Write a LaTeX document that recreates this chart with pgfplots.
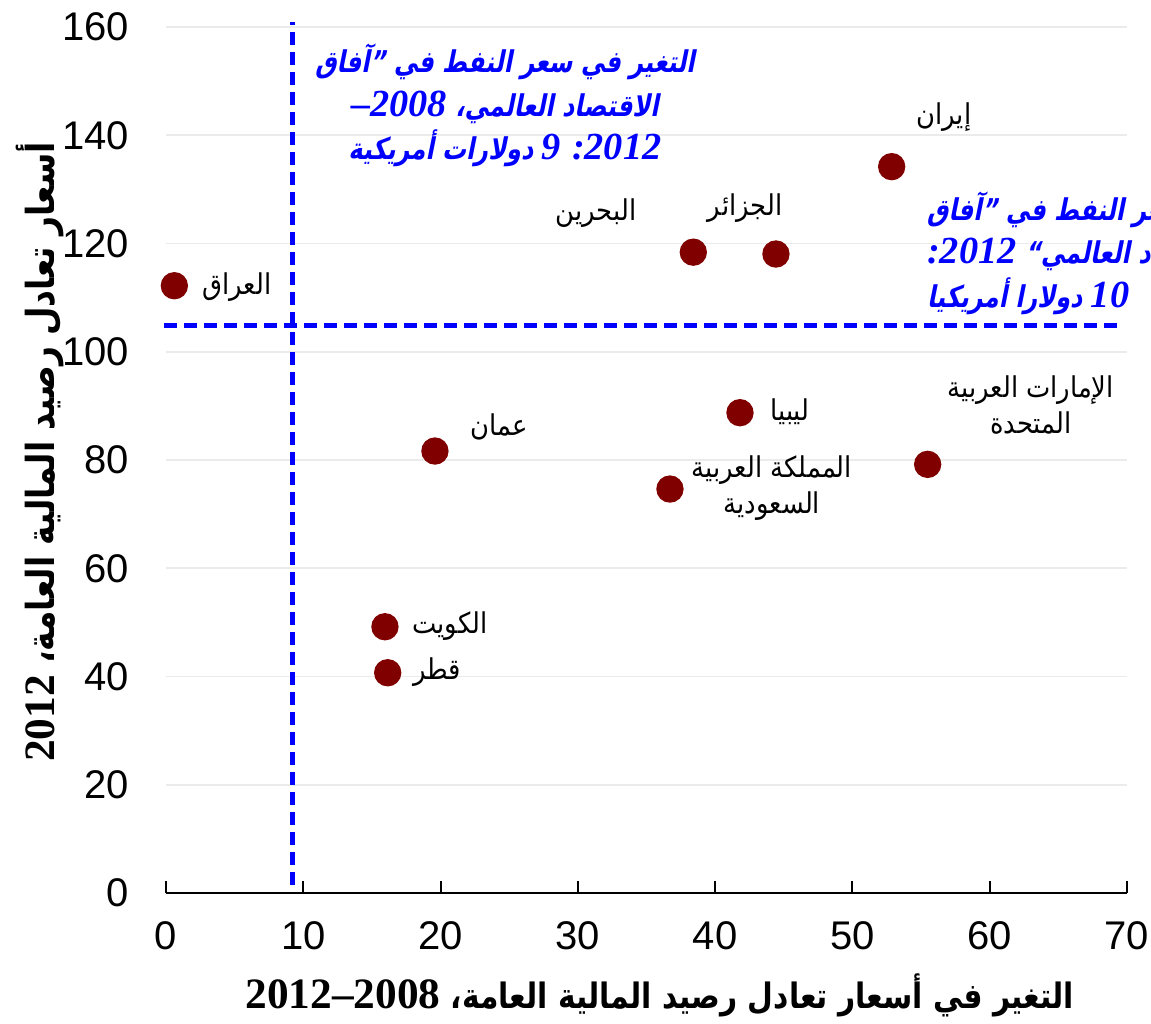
\documentclass[border=0pt]{standalone}
\usepackage{fontspec}
\usepackage{pgfplots}
\pgfplotsset{compat=1.18}
\setmainfont{Liberation Sans}
\TeXXeTstate=1
\newfontfamily\ar[Script=Arabic,FakeStretch=0.9]{DejaVu Sans}
\newfontfamily\arb[Script=Arabic,FakeStretch=0.85]{DejaVu Sans Bold}
\newfontfamily\arbi[Script=Arabic,FakeSlant=0.2,FakeStretch=0.8]{DejaVu Sans Bold}
\newfontfamily\tnr{Liberation Serif}
\definecolor{darkred}{HTML}{800000}
\definecolor{gridgray}{HTML}{EBEBEB}
\newcommand\annum[1]{{\tnr\bfseries\itshape\fontsize{11.5}{13}\selectfont\beginL #1\endL}}
\newcommand\labnum[1]{{\tnr\bfseries\fontsize{13}{15}\selectfont\beginL #1\endL}}
\begin{document}
\begin{tikzpicture}
\begin{axis}[
  width=288.3pt, height=259.8pt, scale only axis,
  xmin=0, xmax=70, ymin=0, ymax=160,
  clip=false,
  axis x line*=bottom, axis y line*=left,
  x axis line style={-, black, line width=0.6pt},
  y axis line style={draw=none},
  xtick={0,10,...,70}, ytick={0,20,...,160},
  xtick align=inside, major tick length=3.6pt,
  xtick style={black, line width=0.6pt},
  ytick style={draw=none},
  ymajorgrids, major grid style={gridgray, line width=0.5pt},
  /pgf/number format/assume math mode=true,
  tick label style={font=\fontsize{12}{14}\selectfont, black},
  xticklabel style={yshift=-5pt},
  yticklabel style={xshift=-7.5pt},
]
\addplot[only marks, mark=*, mark size=3.9pt, color=darkred] coordinates {
  (0.61,112.2) (38.41,118.4) (44.43,118.06) (52.86,134.2) (41.81,88.74)
  (55.48,79.2) (19.59,81.66) (36.71,74.64) (15.95,49.2) (16.15,40.7)
};
\addplot[blue, line width=1.5pt, dash pattern=on 4pt off 2pt] coordinates {(9.2,1.5) (9.2,160.9)};
\addplot[blue, line width=1.5pt, dash pattern=on 4pt off 2pt] coordinates {(-0.15,104.9) (69.5,104.9)};

\begin{scope}[every node/.style={font=\ar\fontsize{8.6}{11}\selectfont, align=center, inner sep=0pt}]
\node at (axis cs:5.17,111.97) {\beginR العراق\endR};
\node at (axis cs:31.32,125.6) {\beginR البحرين\endR};
\node at (axis cs:42.18,126.55) {\beginR الجزائر\endR};
\node at (axis cs:56.67,143.37) {\beginR إيران\endR};
\node at (axis cs:24.26,86.09) {\beginR عمان\endR};
\node at (axis cs:45.45,88.86) {\beginR ليبيا\endR};
\node at (axis cs:44.14,74.82) {\beginR المملكة العربية\endR\\\beginR السعودية\endR};
\node at (axis cs:62.99,90.14) {\beginR الإمارات العربية\endR\\\beginR المتحدة\endR};
\node at (axis cs:20.68,49.33) {\beginR الكويت\endR};
\node at (axis cs:19.74,40.83) {\beginR قطر\endR};
\end{scope}

\node[font=\arbi\fontsize{9}{13}\selectfont, text=blue, align=center, inner sep=0pt] at (axis cs:24.69,145.5)
  {\beginR التغير في سعر النفط في ”آفاق\endR\\
   \beginR الاقتصاد العالمي، \annum{–2008}\endR\\
   \beginR\annum{2012}\annum{:} \annum{9} دولارات أمريكية\endR};
\node[font=\arbi\fontsize{9}{13}\selectfont, text=blue, align=left, inner sep=0pt, anchor=west] at (axis cs:55.4,118.24)
  {\beginR التغير في سعر النفط في ”آفاق\endR\\
   \beginR الاقتصاد العالمي“ \annum{2012}\annum{:}\endR\\
   \beginR\annum{10} دولارا أمريكيا\endR};

\node[font=\arb\fontsize{10.5}{13}\selectfont, inner sep=0pt] at (axis cs:35.98,-18.85)
  {\beginR التغير في أسعار تعادل رصيد المالية العامة، \labnum{2012–2008}\endR};
\node[font=\arb\fontsize{11.6}{13}\selectfont, inner sep=0pt, rotate=90] at (axis cs:-9.18,81.5)
  {\beginR أسعار تعادل رصيد المالية العامة، \labnum{2012}\endR};

\coordinate (bbsw) at (axis cs:-12.09,-24.02);
\coordinate (bbne) at (axis cs:71.75,164.99);
\end{axis}
\pgfresetboundingbox
\path[use as bounding box] (bbsw) rectangle (bbne);
\end{tikzpicture}
\end{document}
